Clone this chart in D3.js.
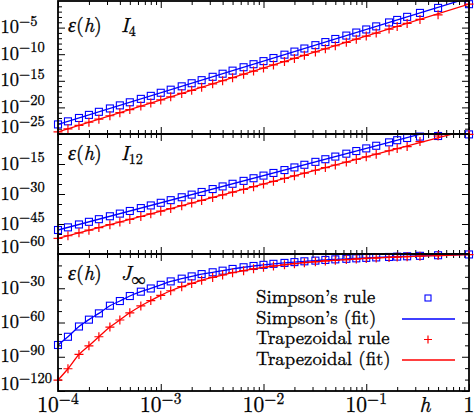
<!DOCTYPE html>
<html><head><meta charset="utf-8">
<script src="https://cdn.jsdelivr.net/npm/d3@7"></script>
<style>
body{margin:0;background:#fff}
svg{display:block}
</style>
</head><body>
<svg id="c" width="474" height="417"></svg>
<script>
// ---------- data (errors given as log10 values) ----------
const hValues = [1e-4,1.25e-4,1.6e-4,2e-4,2.5e-4,3.2e-4,4e-4,5e-4,6.4e-4,8e-4,
  1e-3,1.25e-3,1.6e-3,2e-3,2.5e-3,3.2e-3,4e-3,5e-3,6.4e-3,8e-3,
  1e-2,1.25e-2,1.6e-2,2e-2,2.5e-2,3.2e-2,4e-2,5e-2,6.4e-2,8e-2,
  0.1,0.125,0.1667,0.2,0.25,0.3333,0.5,1];

const i4Simpson = [-23.2,-22.62,-21.99,-21.41,-20.83,-20.2,-19.62,-19.04,-18.4,-17.83,
  -17.25,-16.67,-16.04,-15.46,-14.88,-14.25,-13.67,-13.09,-12.45,-11.88,
  -11.3,-10.72,-10.09,-9.51,-8.93,-8.3,-7.72,-7.14,-6.5,-5.93,
  -5.35,-4.77,-4.03,-3.56,-2.98,-2.24,-1.3,-0.6];
const i4Trap = [-24.6,-24.02,-23.38,-22.79,-22.21,-21.57,-20.99,-20.41,-19.76,-19.18,
  -18.6,-18.02,-17.38,-16.79,-16.21,-15.57,-14.99,-14.41,-13.76,-13.18,
  -12.6,-12.02,-11.38,-10.79,-10.21,-9.57,-8.99,-8.41,-7.76,-7.18,
  -6.6,-6.02,-5.27,-4.79,-4.21,-3.46,-2.6,-0.6];

const i12Simpson = [-48,-46.68,-45.23,-43.91,-42.59,-41.13,-39.81,-38.49,-37.04,-35.72,
  -34.4,-33.08,-31.63,-30.31,-28.99,-27.53,-26.21,-24.89,-23.44,-22.12,
  -20.8,-19.48,-18.03,-16.71,-15.39,-13.93,-12.61,-11.29,-9.84,-8.52,
  -7.2,-5.88,-4.18,-3.1,-2.0,-1.3,-1.0,-0.2];
const i12Trap = [-52.2,-50.88,-49.43,-48.11,-46.79,-45.33,-44.01,-42.69,-41.24,-39.92,
  -38.6,-37.28,-35.83,-34.51,-33.19,-31.73,-30.41,-29.09,-27.64,-26.32,
  -25,-23.68,-22.23,-20.91,-19.59,-18.13,-16.81,-15.49,-14.04,-12.72,
  -11.4,-10.08,-8.38,-7.3,-6.3,-3.8,-1.0,-0.2];

const jSimpson = [-79.7,-72.5,-63.5,-57.5,-52,-45.3,-41.2,-36.8,-33,-30.2,
  -27,-24,-21.6,-19.6,-17.6,-16,-14.6,-13.1,-11.6,-10.5,
  -9.5,-8.6,-7.8,-7.1,-6.4,-5.8,-5.2,-4.7,-4.2,-3.8,
  -3.4,-3.0,-2.6,-2.3,-2.0,-1.6,-1.1,-0.4];
const jTrap = [-110.4,-100.5,-88,-80.4,-72.5,-64,-57.8,-51.5,-45.5,-40.8,
  -36.2,-32.2,-28.6,-25.8,-23,-20.5,-18.4,-16.4,-14.6,-13.0,
  -11.7,-10.5,-9.4,-8.5,-7.6,-6.8,-6.1,-5.5,-4.9,-4.4,
  -3.9,-3.5,-3.0,-2.7,-2.3,-1.9,-1.4,-0.6];

// straight-line fits (log-log) for the power-law panels
const fitH = [1e-4, 1];
const i4SimpsonFit = [-23.2, 0.6];
const i4TrapFit = [-24.6, -0.6];
const i12SimpsonFit = [-48, 6.4];
const i12TrapFit = [-52.2, 2.2];

// tick exponents
const xTickExps = [-4, -3, -2, -1];
const i4YTicks = [-5, -10, -15, -20, -25];
const i12YTicks = [-15, -30, -45, -60];
const jYTicks = [-30, -60, -90, -120];

const legendLabels = ["Simpson\u2019s rule", "Simpson\u2019s (fit)", "Trapezoidal rule", "Trapezoidal (fit)"];

// ---------- layout ----------
const FONT = "Latin Modern Roman";
const BLUE = "#0000ff", RED = "#ff0000";
const L = 58, R = 469;
const panels = [
  {top:1, bottom:134, lo:-25, minorStep:1, yTicks:i4YTicks, name:"I", sub:"4",
   s:i4Simpson, t:i4Trap, fitX:fitH, fs:i4SimpsonFit, ft:i4TrapFit, curve:d3.curveLinear, titleY:32},
  {top:134, bottom:254, lo:-60, minorStep:5, yTicks:i12YTicks, name:"I", sub:"12",
   s:i12Simpson, t:i12Trap, fitX:fitH, fs:i12SimpsonFit, ft:i12TrapFit, curve:d3.curveLinear, titleY:160},
  {top:254, bottom:391, lo:-120, minorStep:10, yTicks:jYTicks, name:"J", sub:"\u221e",
   s:jSimpson, t:jTrap, fitX:hValues, fs:jSimpson, ft:jTrap, curve:d3.curveMonotoneX, titleY:280}
];

const svg = d3.select("#c");
const x = d3.scaleLog().domain([1e-4, 1]).range([L, R]);

const xMinor = [];
for (let e = -4; e < 0; e++) for (let k = 2; k <= 9; k++) xMinor.push(k * Math.pow(10, e));
const xMajor = xTickExps.map(e => Math.pow(10, e)).concat([1]);

function styleAxis(g){
  g.select(".domain").remove();
  g.selectAll(".tick line").attr("stroke", "#000").attr("stroke-width", 1);
  g.selectAll(".tick text").remove();
}
function txt(){
  return svg.append("text").style("font-family", `'${FONT}'`).attr("fill", "#000")
    .attr("stroke", "#000").attr("stroke-width", 0.3);
}

panels.forEach((p, idx) => {
  const y = d3.scaleLog().domain([Math.pow(10, p.lo), 1]).range([p.bottom, p.top]);
  const yMajor = p.yTicks.map(e => Math.pow(10, e));
  const yMinor = d3.range(p.lo, 0, p.minorStep).filter(e => !p.yTicks.includes(e)).map(e => Math.pow(10, e));

  const clipId = "clip" + idx;
  svg.append("clipPath").attr("id", clipId).append("rect")
    .attr("x", L).attr("y", p.top).attr("width", R - L).attr("height", p.bottom - p.top);

  const ax = [
    [d3.axisBottom(x), `translate(0,${p.top})`],
    [d3.axisTop(x), `translate(0,${p.bottom})`]
  ];
  ax.forEach(([a, tr]) => {
    svg.append("g").attr("transform", tr).call(a.tickValues(xMajor).tickSize(7).tickFormat("")).call(styleAxis);
    svg.append("g").attr("transform", tr).call(a.tickValues(xMinor).tickSize(4).tickFormat("")).call(styleAxis);
  });
  const ay = [
    [d3.axisRight(y), `translate(${L},0)`],
    [d3.axisLeft(y), `translate(${R},0)`]
  ];
  ay.forEach(([a, tr]) => {
    svg.append("g").attr("transform", tr).call(a.tickValues(yMajor).tickSize(7).tickFormat("")).call(styleAxis);
    svg.append("g").attr("transform", tr).call(a.tickValues(yMinor).tickSize(4).tickFormat("")).call(styleAxis);
  });

  p.yTicks.forEach(e => {
    const yy = y(Math.pow(10, e)) + 5.5 - (e === p.lo ? 6.5 : 0);
    const t = txt().attr("x", 0.5).attr("y", yy).attr("font-size", 18.5);
    t.append("tspan").text("10");
    t.append("tspan").attr("dy", -7.5).attr("font-size", 14.5).text("\u2212" + Math.abs(e));
  });

  const tt = txt().attr("x", 68).attr("y", p.titleY).attr("font-size", 20);
  tt.append("tspan").attr("font-style", "italic").text("\u03b5");
  tt.append("tspan").text("(");
  tt.append("tspan").attr("font-style", "italic").text("h");
  tt.append("tspan").text(")");
  const tn = txt().attr("x", 121).attr("y", p.titleY).attr("font-size", 20);
  tn.append("tspan").attr("font-style", "italic").text(p.name);
  tn.append("tspan").attr("dy", 4).attr("font-size", 14).text(p.sub);

  const line = d3.line().curve(p.curve).x(d => x(d[0])).y(d => y(Math.pow(10, d[1])));
  const pts = arr => hValues.map((h, i) => [h, arr[i]]);
  const fitPts = arr => p.fitX.map((h, i) => [h, arr[i]]);

  svg.append("g").selectAll("rect").data(pts(p.s)).join("rect")
    .attr("x", d => x(d[0]) - 3.5).attr("y", d => y(Math.pow(10, d[1])) - 3.5)
    .attr("width", 7).attr("height", 7)
    .attr("fill", "none").attr("stroke", BLUE).attr("stroke-width", 1.1);
  svg.append("path").datum(fitPts(p.fs)).attr("d", line).attr("clip-path", `url(#${clipId})`)
    .attr("fill", "none").attr("stroke", BLUE).attr("stroke-width", 1.3);
  svg.append("g").selectAll("path").data(pts(p.t)).join("path")
    .attr("transform", d => `translate(${x(d[0])},${y(Math.pow(10, d[1]))})`)
    .attr("d", "M-4.5,0H4.5M0,-4.5V4.5")
    .attr("fill", "none").attr("stroke", RED).attr("stroke-width", 1.2);
  svg.append("path").datum(fitPts(p.ft)).attr("d", line).attr("clip-path", `url(#${clipId})`)
    .attr("fill", "none").attr("stroke", RED).attr("stroke-width", 1.3);

  svg.append("rect").attr("x", L).attr("y", p.top).attr("width", R - L).attr("height", p.bottom - p.top)
    .attr("fill", "none").attr("stroke", "#000").attr("stroke-width", 1.8);
});

xTickExps.forEach(e => {
  const t = txt().attr("x", x(Math.pow(10, e))).attr("y", 412)
    .attr("text-anchor", "middle").attr("font-size", 21.5);
  t.append("tspan").text("10");
  t.append("tspan").attr("dy", -8.5).attr("font-size", 15.5).text("\u2212" + Math.abs(e));
});
txt().attr("x", x(1)).attr("y", 412).attr("text-anchor", "middle").attr("font-size", 21.5).text("1");
txt().attr("x", 425).attr("y", 412).attr("text-anchor", "middle").attr("font-size", 21.5)
  .attr("font-style", "italic").text("h");

const legY = [303, 323.5, 344, 364.5];
legendLabels.forEach((lab, i) => {
  txt().attr("x", 256).attr("y", legY[i]).attr("font-size", 18.8).text(lab);
});
svg.append("rect").attr("x", 428 - 3).attr("y", legY[0] - 5 - 3).attr("width", 6).attr("height", 6)
  .attr("fill", "none").attr("stroke", BLUE).attr("stroke-width", 1.1);
svg.append("line").attr("x1", 402).attr("x2", 455).attr("y1", legY[1] - 4.5).attr("y2", legY[1] - 4.5)
  .attr("stroke", BLUE).attr("stroke-width", 1.3);
svg.append("path").attr("transform", `translate(428,${legY[2] - 4.5})`).attr("d", "M-4,0H4M0,-4V4")
  .attr("stroke", RED).attr("stroke-width", 1.2).attr("fill", "none");
svg.append("line").attr("x1", 402).attr("x2", 455).attr("y1", legY[3] - 4.5).attr("y2", legY[3] - 4.5)
  .attr("stroke", RED).attr("stroke-width", 1.3);
</script>
</body></html>
